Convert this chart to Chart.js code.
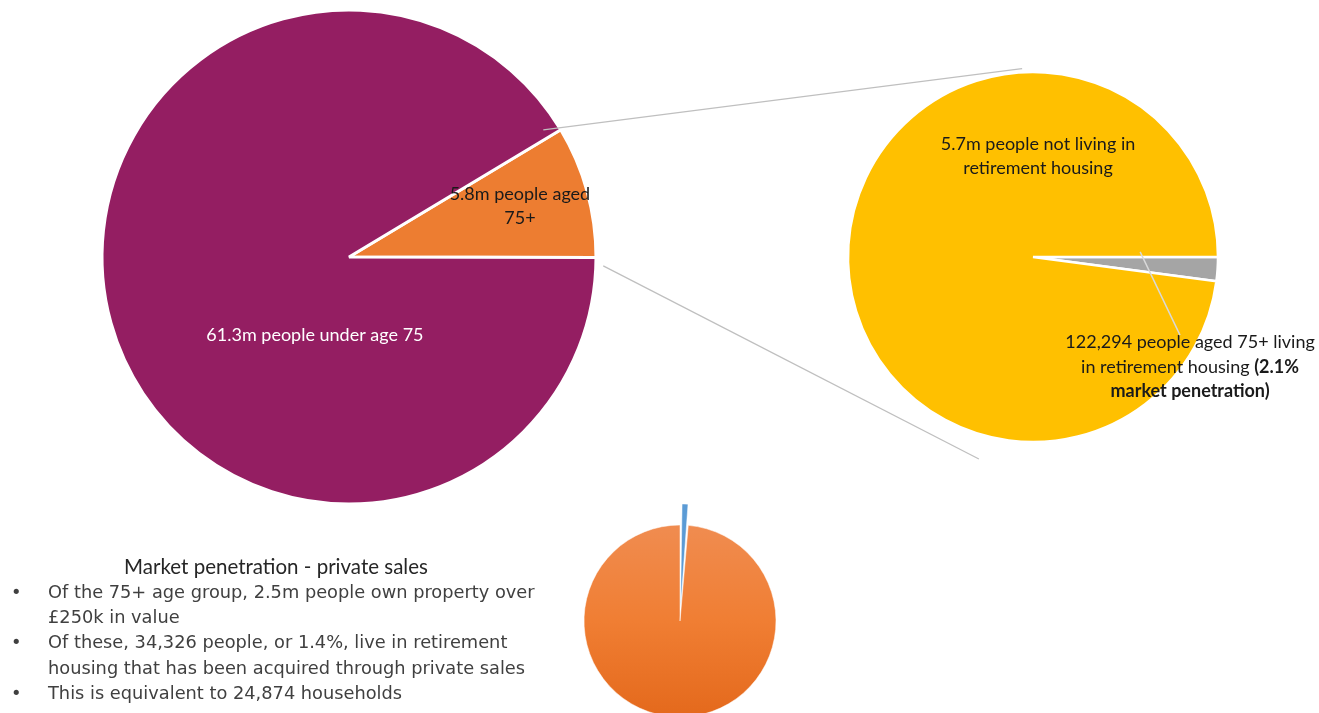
<!DOCTYPE html>
<html>
<head>
<meta charset="utf-8">
<script src="https://cdn.jsdelivr.net/npm/chart.js@4.4.1/dist/chart.umd.min.js"></script>
<style>
  html, body { margin: 0; padding: 0; width: 1319px; height: 713px; overflow: hidden; background: #ffffff; }
  canvas { position: absolute; }
  #lines { position: absolute; left: 0; top: 0; pointer-events: none; }
  #note { position: absolute; left: 0; top: 553px; width: 548px; color: #404040; }
  #note .title { font-family: Lato, "Open Sans", sans-serif; font-size: 20.5px; color: #262626; text-align: center; width: 552px; line-height: 26px; }
  #note .b { position: relative; padding-left: 48px; font-family: "DejaVu Sans", sans-serif; font-size: 17.8px; line-height: 25.2px; }
  #note .b::before { content: "\2022"; position: absolute; left: 11px; top: 0; }
</style>
</head>
<body>
<canvas id="c1" width="520" height="520" style="left:89px; top:-3px;"></canvas>
<canvas id="c2" width="486" height="400" style="left:833px; top:57px;"></canvas>
<canvas id="c3" width="260" height="260" style="left:550px; top:491px;"></canvas>
<svg id="lines" width="1319" height="713"></svg>
<div id="note">
  <div class="title">Market penetration - private sales</div>
  <div class="b">Of the 75+ age group, 2.5m people own property over £250k in value</div>
  <div class="b">Of these, 34,326 people, or 1.4%, live in retirement housing that has been acquired through private sales</div>
  <div class="b">This is equivalent to 24,874 households</div>
</div>
<script>
// ---- data ----
const populationCategories = ["5.8m people aged 75+", "61.3m people under age 75"];
const populationValues = [5.8, 61.3];           // millions
const retirementCategories = ["122,294 people aged 75+ living in retirement housing (2.1% market penetration)", "5.7m people not living in retirement housing"];
const retirementValues = [122294, 5700000];
const privateSalesCategories = ["Private sales retirement housing (1.4%)", "Other 75+ owning property over £250k"];
const privateSalesValues = [34326, 2465674];

// ---- styling / layout (not data) ----
const LABEL_FONT = 'Lato, "Open Sans", sans-serif';
const labelLayouts = {
  c1: [
    { idx: 0, dx: 0.692, dy: -0.206, color: '#1a1a1a', lines: [[["5.8m people aged", false]], [["75+", false]]] },
    { idx: 1, dx: -0.138, dy: 0.316, color: '#ffffff', lines: [[["61.3m people under age 75", false]]] }
  ],
  c2: [
    { idx: 1, dx: 0.027, dy: -0.546, color: '#1a1a1a', lines: [[["5.7m people not living in", false]], [["retirement housing", false]]] },
    { idx: 0, dx: 0.849, dy: 0.595, color: '#1a1a1a', lines: [[["122,294 people aged 75+ living", false]], [["in retirement housing ", false], ["(2.1%", true]], [["market penetration)", true]]] }
  ]
};

const labelPlugin = {
  id: 'sliceLabels',
  afterDatasetsDraw(chart) {
    const specs = labelLayouts[chart.canvas.id];
    if (!specs) return;
    const arc = chart.getDatasetMeta(0).data[0];
    const cx = arc.x, cy = arc.y, R = arc.outerRadius;
    const ctx = chart.ctx;
    const fs = 18, lh = 24.5;
    ctx.save();
    ctx.textBaseline = 'middle';
    specs.forEach(s => {
      const x0 = cx + s.dx * R, y0 = cy + s.dy * R;
      const n = s.lines.length;
      s.lines.forEach((segs, i) => {
        let total = 0;
        segs.forEach(([t, b]) => { ctx.font = (b ? 'bold ' : '') + fs + 'px ' + LABEL_FONT; total += ctx.measureText(t).width; });
        let x = x0 - total / 2;
        const y = y0 + (i - (n - 1) / 2) * lh;
        segs.forEach(([t, b]) => {
          ctx.font = (b ? 'bold ' : '') + fs + 'px ' + LABEL_FONT;
          ctx.fillStyle = s.color;
          ctx.textAlign = 'left';
          ctx.fillText(t, x, y);
          x += ctx.measureText(t).width;
        });
      });
    });
    ctx.restore();
  }
};

const baseOptions = (radius, rotation, padding) => ({
  responsive: false,
  animation: false,
  events: [],
  rotation: rotation,
  radius: radius,
  layout: { padding: padding || 0 },
  plugins: { legend: { display: false }, tooltip: { enabled: false } }
});

const chart1 = new Chart(document.getElementById('c1'), {
  type: 'pie',
  data: {
    labels: populationCategories,
    datasets: [{ data: populationValues, backgroundColor: ['#ED7D31', '#941E62'], borderColor: '#ffffff', borderWidth: 3 }]
  },
  options: baseOptions(247, 59),
  plugins: [labelPlugin]
});

const chart2 = new Chart(document.getElementById('c2'), {
  type: 'pie',
  data: {
    labels: retirementCategories,
    datasets: [{ data: retirementValues, backgroundColor: ['#A5A5A5', '#FFC000'], borderColor: '#ffffff', borderWidth: 2.5 }]
  },
  options: baseOptions(185, 90, { right: 86 }),
  plugins: [labelPlugin]
});

function sliceColor(c) {
  if (c.dataIndex === 0) return '#5B9BD5';
  const chart = c.chart;
  if (!chart.chartArea) return '#EE7B30';
  const a = chart.chartArea;
  const cy = (a.top + a.bottom) / 2;
  const g = chart.ctx.createLinearGradient(0, cy - 96, 0, cy + 96);
  g.addColorStop(0, '#F08C50');
  g.addColorStop(0.5, '#F07E33');
  g.addColorStop(1, '#E4691C');
  return g;
}

const chart3 = new Chart(document.getElementById('c3'), {
  type: 'pie',
  data: {
    labels: privateSalesCategories,
    datasets: [{
      data: privateSalesValues,
      backgroundColor: sliceColor,
      borderColor: '#ffffff',
      borderWidth: [0.5, 0.5],
      offset: [44, 0]
    }]
  },
  options: baseOptions(96, 0)
});

// ---- connector lines, derived from the pies' arc geometry ----
function geom(chart) {
  const a = chart.getDatasetMeta(0).data[0];
  const r = chart.canvas.getBoundingClientRect();
  return { cx: r.left + a.x, cy: r.top + a.y, R: a.outerRadius };
}
function pt(g, deg, f) {
  const t = deg * Math.PI / 180;
  return [g.cx + Math.cos(t) * g.R * f, g.cy + Math.sin(t) * g.R * f];
}
const g1 = geom(chart1), g2 = geom(chart2);
const connectors = [
  [pt(g1, -33.2, 0.94), pt(g2, -93.3, 1.02)],
  [pt(g1, 2.0, 1.03), pt(g2, 105.0, 1.13)],
  [pt(g2, -2.7, 0.58), pt(g2, 28.0, 0.90)]
];
const svg = document.getElementById('lines');
connectors.forEach(([p, q], i) => {
  const l = document.createElementNS('http://www.w3.org/2000/svg', 'line');
  l.setAttribute('x1', p[0]); l.setAttribute('y1', p[1]);
  l.setAttribute('x2', q[0]); l.setAttribute('y2', q[1]);
  l.setAttribute('stroke', i === 2 ? '#D9D9D9' : '#BFBFBF');
  l.setAttribute('stroke-width', i === 2 ? 1.5 : 1.2);
  svg.appendChild(l);
});
</script>
</body>
</html>
